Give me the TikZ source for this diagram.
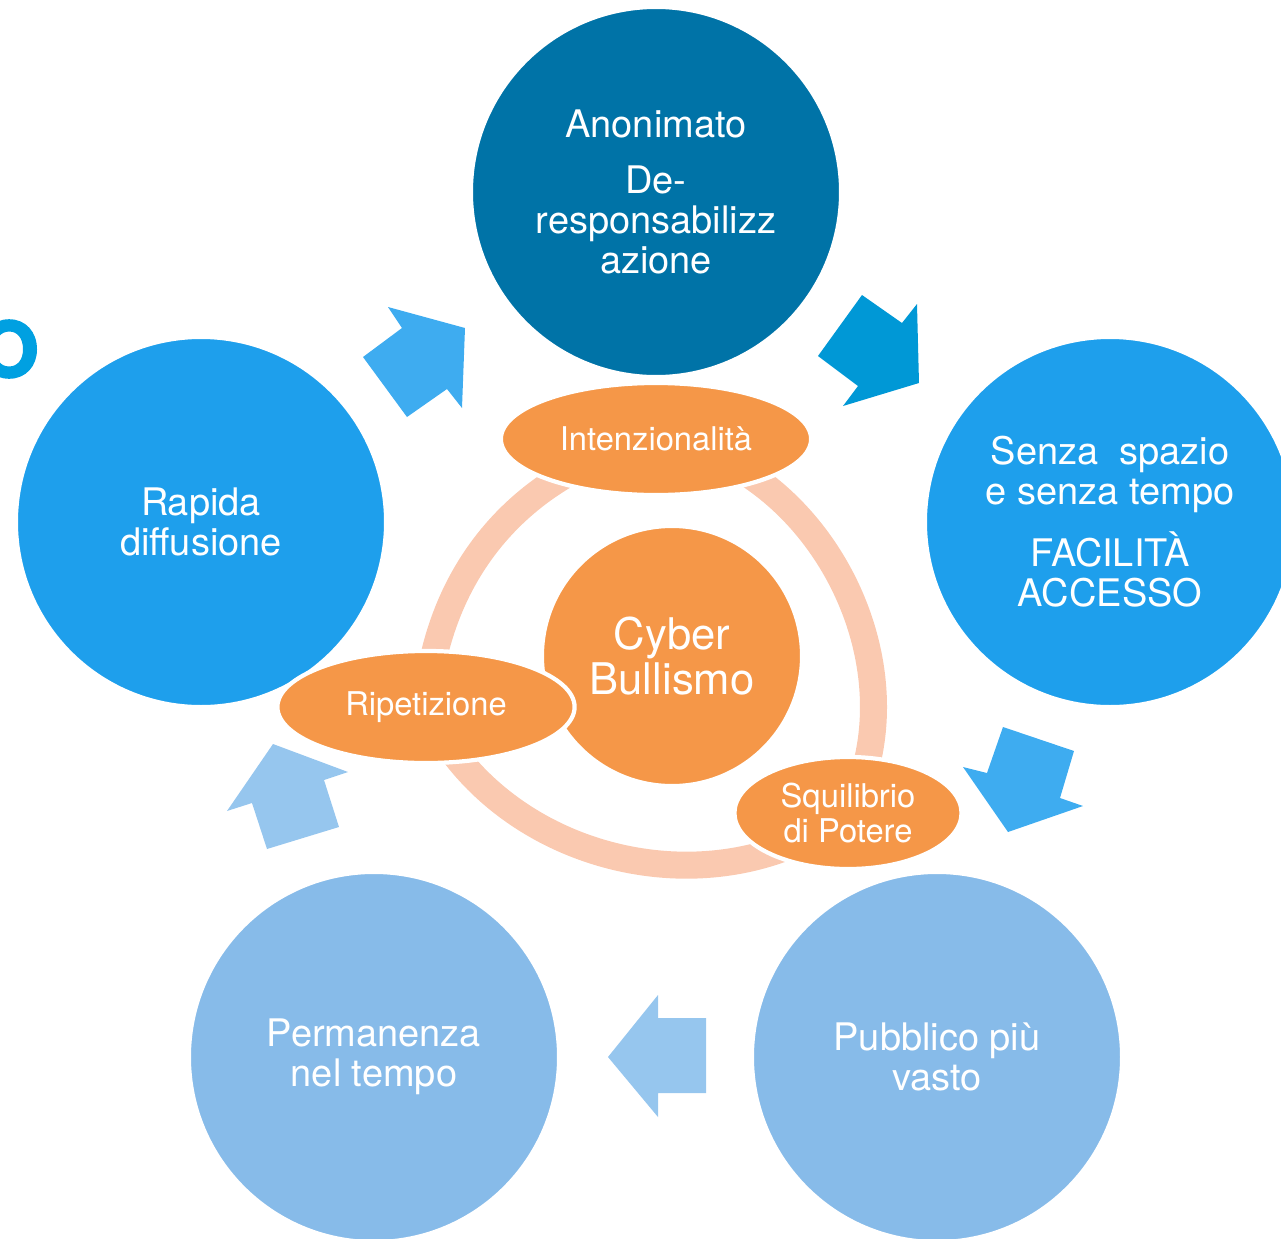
\documentclass[tikz,border=0pt]{standalone}
\usepackage{fontspec}
\setmainfont{TeX Gyre Heros}
\newfontfamily\titlefont{TeX Gyre Heros}[FakeBold=3.5]
\usetikzlibrary{shapes.geometric}
\pgfdeclarelayer{background}
\pgfsetlayers{background,main}
\definecolor{deepblue}{RGB}{0,115,167}
\definecolor{midblue}{RGB}{30,159,236}
\definecolor{paleblue}{RGB}{135,187,233}
\definecolor{bullyorange}{RGB}{245,151,72}
\definecolor{ringpeach}{RGB}{250,201,176}
\definecolor{arrowblue}{RGB}{62,172,240}
\definecolor{arrowdeep}{RGB}{0,152,214}
\definecolor{arrowpale}{RGB}{150,198,238}
\definecolor{titleblue}{RGB}{0,160,225}
\tikzstyle{bubble}=[circle,draw=white,line width=1.2pt,minimum size=3.7cm,inner sep=0pt,align=center,text=white,font=\fontsize{10.8}{11.4}\selectfont]
\tikzstyle{core}=[circle,draw=white,line width=1.2pt,fill=bullyorange,minimum size=2.6cm,inner sep=0pt,align=center,text=white,font=\fontsize{12.4}{12.8}\selectfont]
\tikzstyle{trait}=[ellipse,draw=white,line width=1.2pt,fill=bullyorange,minimum height=1.12cm,inner sep=0pt,align=center,text=white,font=\fontsize{9.3}{10}\selectfont]
\tikzstyle{ring}=[draw=ringpeach,line width=0.27cm]

\begin{document}
\begin{tikzpicture}[x=0.01cm,y=-0.01cm]
\useasboundingbox (0,0) rectangle (1281,1239);
\clip (0,0) rectangle (1281,1239);

% cut title letter at the left border
\node[text=titleblue,font=\titlefont\bfseries\fontsize{21.5}{21.5}\selectfont] (title) at (9,349) {O};

% First we draw the outer bubbles
\foreach \pos/\name/\col/\txt in {{(656,192)/anon/deepblue/{Anonimato\\[4.5pt]De-\\responsabilizz\\azione}},
    {(1110,522)/senza/midblue/{Senza~ spazio\\e senza tempo\\[4.3pt]FACILITÀ\\ACCESSO}},
    {(937,1057)/pubblico/paleblue/{Pubblico più\\vasto}},
    {(374,1057)/perm/paleblue/{Permanenza\\nel tempo}},
    {(201,522)/rapida/midblue/{Rapida\\diffusione}}}
\node[bubble,fill=\col] (\name) at \pos {\txt};

% block arrows between the bubbles
\fill[arrowblue] (388,307) -- (465,328) -- (462,408) -- (447,389) -- (407,417) -- (363,357) -- (402,328) -- cycle;
\fill[arrowdeep] (862,295) -- (902,323) -- (917,304) -- (919,383) -- (843,406) -- (858,386) -- (818,356) -- cycle;
\fill[arrowblue] (1003,727) -- (1074,751) -- (1060,798) -- (1083,806) -- (1008,832) -- (963,767) -- (987,773) -- cycle;
\fill[arrowpale] (706,1018) -- (706,1093) -- (658,1093) -- (658,1117) -- (608,1057) -- (658,995) -- (658,1018) -- cycle;
\fill[arrowpale] (273,744) -- (348,772) -- (324,780) -- (339,827) -- (267,849) -- (252,803) -- (227,811) -- cycle;

% Then the core and the three traits
\node[core] (cyber) at (672,656) {Cyber\\Bullismo};
\foreach \pos/\name/\ewidth/\txt in {{(656,439)/intenz/3.1cm/Intenzionalità},
    {(426,707)/ripet/2.97cm/Ripetizione},
    {(848,813)/squil/2.27cm/{Squilibrio\\di Potere}}}
\node[trait,minimum width=\ewidth] (\name) at \pos {\txt};

\begin{pgfonlayer}{background}
    \foreach \source/\dest/\ang in {intenz/ripet/36, ripet/squil/51}
    \path[ring] (\source.center) to[bend right=\ang] (\dest.center);
    \path[ring] (intenz.center) to[bend left=55] (squil.center);
\end{pgfonlayer}
\end{tikzpicture}
\end{document}
